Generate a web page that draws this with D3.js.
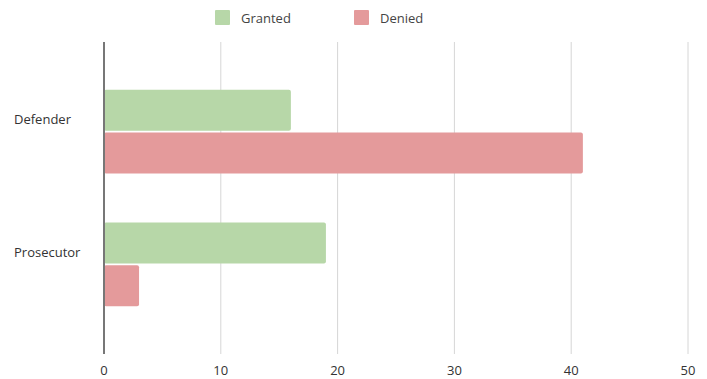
<!DOCTYPE html>
<html>
<head>
<meta charset="utf-8">
<script src="https://cdn.jsdelivr.net/npm/d3@7"></script>
<style>
  body { margin: 0; background: #fff; }
  text { font-family: "Open Sans", "Noto Sans", sans-serif; }
</style>
</head>
<body>
<svg id="chart"></svg>
<script>
const categories = ['Defender', 'Prosecutor'];
const seriesNames = ['Granted', 'Denied'];
const granted = [16, 19];
const denied = [41, 3];
const xTicks = [0, 10, 20, 30, 40, 50];
const colors = ['#b7d7a8', '#e49a9b'];

const width = 707, height = 379;
const margin = { top: 42, right: 19, bottom: 25, left: 104 };

const svg = d3.select('#chart')
  .attr('width', width)
  .attr('height', height);

const x = d3.scaleLinear()
  .domain([0, 50])
  .range([margin.left, width - margin.right]);

const y = d3.scaleBand()
  .domain(categories)
  .range([margin.top, height - margin.bottom])
  .paddingInner(0.37)
  .paddingOuter(0.36);

const ySub = d3.scaleBand()
  .domain(seriesNames)
  .range([0, y.bandwidth()])
  .paddingInner(0.04);

const color = d3.scaleOrdinal().domain(seriesNames).range(colors);

// gridlines
svg.append('g')
  .selectAll('line')
  .data(xTicks.slice(1))
  .join('line')
  .attr('x1', d => x(d))
  .attr('x2', d => x(d))
  .attr('y1', margin.top)
  .attr('y2', height - margin.bottom)
  .attr('stroke', '#d6d6d6')
  .attr('stroke-width', 1);

// tick labels
svg.append('g')
  .selectAll('text')
  .data(xTicks)
  .join('text')
  .attr('x', d => x(d))
  .attr('y', height - 4)
  .attr('text-anchor', 'middle')
  .attr('font-size', 13)
  .attr('fill', '#333')
  .text(d => d);

const rows = categories.map((c, i) => ({
  category: c,
  values: [
    { series: 'Granted', value: granted[i] },
    { series: 'Denied', value: denied[i] }
  ]
}));

const groups = svg.append('g')
  .selectAll('g')
  .data(rows)
  .join('g')
  .attr('transform', d => `translate(0, ${y(d.category)})`);

groups.selectAll('rect')
  .data(d => d.values)
  .join('rect')
  .attr('x', x(0))
  .attr('y', d => ySub(d.series))
  .attr('width', d => x(d.value) - x(0))
  .attr('height', ySub.bandwidth())
  .attr('rx', 2)
  .attr('fill', d => color(d.series));

// category labels
svg.append('g')
  .selectAll('text')
  .data(categories)
  .join('text')
  .attr('x', 14)
  .attr('y', d => y(d) + 30)
  .attr('dy', '0.35em')
  .attr('font-size', 13)
  .attr('fill', '#333')
  .text(d => d);

// zero axis line
svg.append('line')
  .attr('x1', x(0))
  .attr('x2', x(0))
  .attr('y1', margin.top)
  .attr('y2', height - margin.bottom)
  .attr('stroke', '#777')
  .attr('stroke-width', 2);

// legend
const legendX = [215, 354];
const legend = svg.append('g')
  .selectAll('g')
  .data(seriesNames)
  .join('g')
  .attr('transform', (d, i) => `translate(${legendX[i]}, 10)`);

legend.append('rect')
  .attr('width', 15)
  .attr('height', 15)
  .attr('rx', 1)
  .attr('fill', d => color(d));

legend.append('text')
  .attr('x', 26)
  .attr('y', 8)
  .attr('dy', '0.35em')
  .attr('font-size', 13)
  .attr('fill', '#444')
  .text(d => d);
</script>
</body>
</html>
